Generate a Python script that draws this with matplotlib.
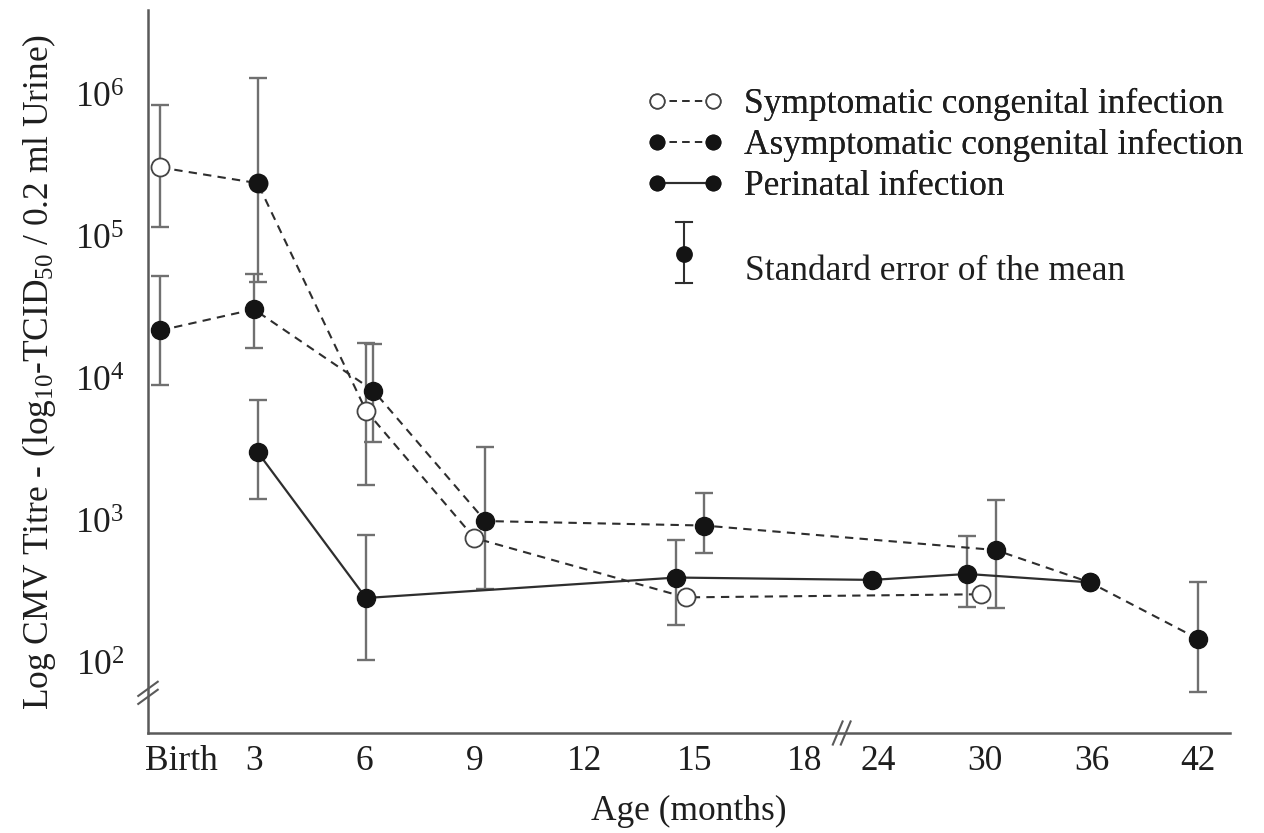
import numpy as np
import matplotlib
matplotlib.use('Agg')
import matplotlib.pyplot as plt
from matplotlib.lines import Line2D
from matplotlib.transforms import ScaledTranslation, blended_transform_factory

plt.rcParams['font.family'] = ['Liberation Serif', 'DejaVu Serif']
plt.rcParams['mathtext.fontset'] = 'custom'
plt.rcParams['mathtext.rm'] = 'Liberation Serif'
plt.rcParams['mathtext.default'] = 'regular'

# ---------------- data ----------------
x_tick_months = [0, 3, 6, 9, 12, 15, 18, 24, 30, 36, 42]
x_tick_labels = ['Birth', '3', '6', '9', '12', '15', '18', '24', '30', '36', '42']
y_ticks = [1e2, 1e3, 1e4, 1e5, 1e6]
y_tick_labels = [r'$10^{2}$', r'$10^{3}$', r'$10^{4}$', r'$10^{5}$', r'$10^{6}$']

nan = np.nan
# Symptomatic congenital infection
symp_age = [0, 3.1, 6.05, 9.0, 14.75, 29.8]
symp_titre = [3.1e5, 2.4e5, 6.0e3, 760, 290, 305]
symp_lo = [1.17e5, 4.8e4, 1.8e3, nan, nan, nan]
symp_hi = [8.5e5, 1.32e6, 1.8e4, nan, nan, nan]
symp_drawn_filled = [False, True, False, False, False, False]

# Asymptomatic congenital infection
asym_age = [0, 3.0, 6.25, 9.3, 15.25, 30.6, 35.9, 42]
asym_titre = [2.2e4, 3.1e4, 8.3e3, 1.0e3, 930, 625, 370, 148]
asym_lo = [9.1e3, 1.66e4, 3.6e3, 330, 600, 244, nan, 62.5]
asym_hi = [5.3e4, 5.5e4, 1.78e4, 3.3e3, 1.58e3, 1.4e3, nan, 370]

# Perinatal infection
peri_age = [3.1, 6.05, 14.5, 23.5, 29.0, 35.9]
peri_titre = [3.06e3, 287, 400, 385, 424, 370]
peri_lo = [1.43e3, 105, 186, nan, 248, nan]
peri_hi = [7.1e3, 794, 741, nan, 783, nan]

legend_labels = ['Symptomatic congenital infection',
                 'Asymptomatic congenital infection',
                 'Perinatal infection',
                 'Standard error of the mean']
x_label = 'Age (months)'
y_label = r'Log CMV Titre - (log$_{10}$-TCID$_{50}$ / 0.2 ml Urine)'

# ---------------- styling ----------------
FS = 25.5
TXT = '#1e1e1e'
LINE = '#2e2e2e'
DOT = '#141414'
ERR = '#707070'
SPINE = '#5a5a5a'
DASH = (0, (4, 3))
MS = 13

fig = plt.figure(figsize=(12.64, 8.33), dpi=100)
W, H = 1264, 833
ax = fig.add_axes([148 / W, 1 - 733 / H, (1230 - 148) / W, (733 - 10) / H])

# piecewise-linear (broken) age axis
MB = np.array([-6.0, 0.0, 3.0, 18.0, 24.0, 42.0, 60.0])
PB = np.array([-4.68, 0.44, 3.0, 18.0, 20.0, 28.7, 37.4])
ax.set_xscale('function', functions=(lambda m: np.interp(m, MB, PB),
                                     lambda p: np.interp(p, PB, MB)))
ax.set_yscale('log')
ax.set_xlim(-0.38, 43.8)
ax.set_ylim(10 ** 1.507, 10 ** 6.6)


def draw_errors(age, titre, lo, hi):
    age, titre, lo, hi = map(lambda a: np.asarray(a, float), (age, titre, lo, hi))
    m = ~np.isnan(lo)
    ax.errorbar(age[m], titre[m], yerr=[titre[m] - lo[m], hi[m] - titre[m]],
                fmt='none', ecolor=ERR, elinewidth=1.7, capsize=6.5,
                capthick=1.7, zorder=2)


draw_errors(symp_age, symp_titre, symp_lo, symp_hi)
draw_errors(asym_age, asym_titre, asym_lo, asym_hi)
draw_errors(peri_age, peri_titre, peri_lo, peri_hi)

ax.plot(symp_age, symp_titre, linestyle=DASH, color=LINE, lw=1.5, marker='o',
        ms=MS, mfc='white', mec='#444444', mew=1.3, zorder=3)
sf = np.asarray(symp_drawn_filled)
ax.plot(np.asarray(symp_age)[sf], np.asarray(symp_titre)[sf], 'o', ms=MS,
        color=DOT, zorder=4)
ax.plot(asym_age, asym_titre, linestyle=DASH, color=LINE, lw=1.5, marker='o',
        ms=MS, mfc=DOT, mec=DOT, zorder=4)
ax.plot(peri_age, peri_titre, linestyle='-', color=LINE, lw=1.6, marker='o',
        ms=MS, mfc=DOT, mec=DOT, zorder=4)

# axes cosmetics
for s in ('top', 'right'):
    ax.spines[s].set_visible(False)
for s in ('left', 'bottom'):
    ax.spines[s].set_color(SPINE)
    ax.spines[s].set_linewidth(1.8)

ax.set_xticks(x_tick_months)
ax.set_xticklabels(x_tick_labels)
ax.set_yticks(y_ticks)
ax.set_yticklabels(y_tick_labels)
ax.yaxis.set_minor_locator(matplotlib.ticker.NullLocator())
ax.tick_params(axis='both', length=0, labelsize=FS, colors=TXT)
ax.tick_params(axis='x', pad=9)
ax.tick_params(axis='y', pad=17)
# shift the 'Birth' label right as in the original
lab0 = ax.get_xticklabels()[0]
lab0.set_transform(lab0.get_transform() + ScaledTranslation(22 / 100, 0, fig.dpi_scale_trans))

ax.set_xlabel(x_label, fontsize=FS, color=TXT, labelpad=12)
ax.set_ylabel(y_label, fontsize=FS, color=TXT, labelpad=12)

# axis break marks
tr_y = blended_transform_factory(ax.transAxes, ax.transData)
off = fig.dpi_scale_trans
for dy in (-4, 4):
    t = tr_y + ScaledTranslation(0, dy / 100, off)
    ax.add_line(Line2D([-0.009, 0.009], [10 ** 1.74, 10 ** 1.84], transform=t,
                       color=SPINE, lw=1.5, clip_on=False))
tr_x = blended_transform_factory(ax.transData, ax.transAxes)
for dx in (-4, 4):
    t = tr_x + ScaledTranslation(dx / 100, 0, off)
    ax.add_line(Line2D([20.6, 21.4], [-0.016, 0.016], transform=t,
                       color=SPINE, lw=1.5, clip_on=False))

# legend (series)
h1 = Line2D([], [], linestyle=DASH, color=LINE, lw=1.3, marker='o', ms=MS,
            mfc='white', mec='#444444', mew=1.2)
h2 = Line2D([], [], linestyle=DASH, color=LINE, lw=1.3, marker='o', ms=MS,
            mfc=DOT, mec=DOT)
h3 = Line2D([], [], linestyle='-', color=LINE, lw=1.5, marker='o', ms=MS,
            mfc=DOT, mec=DOT)
leg1 = ax.legend([h1, h2, h3], legend_labels[:3], loc='upper left',
                 bbox_to_anchor=(646 / W, 1 - 88 / H), bbox_transform=fig.transFigure,
                 frameon=False, fontsize=FS, numpoints=2, markerscale=0.8,
                 handlelength=2.18, handletextpad=0.6, labelspacing=0.23,
                 borderpad=0, borderaxespad=0, labelcolor=TXT)
ax.add_artist(leg1)

# legend key for the standard error of the mean
ftr = fig.transFigure
def px(x, y):
    return x / W, 1 - y / H
sx, y_top, y_dot, y_bot, cap = 684, 222, 254, 283, 8
fig.add_artist(Line2D(*zip(px(sx, y_top), px(sx, y_bot)), transform=ftr, color=LINE, lw=1.5))
fig.add_artist(Line2D(*zip(px(sx - cap, y_top), px(sx + cap, y_top)), transform=ftr, color=LINE, lw=1.5))
fig.add_artist(Line2D(*zip(px(sx - cap, y_bot), px(sx + cap, y_bot)), transform=ftr, color=LINE, lw=1.5))
fig.add_artist(Line2D([px(sx, y_dot)[0]], [px(sx, y_dot)[1]], transform=ftr, marker='o',
                      ms=MS * 0.85, color=DOT, linestyle='none'))
fig.text(*px(745, 272), legend_labels[3], fontsize=FS, color=TXT, ha='left', va='center')

fig.savefig('out.png', dpi=100)
